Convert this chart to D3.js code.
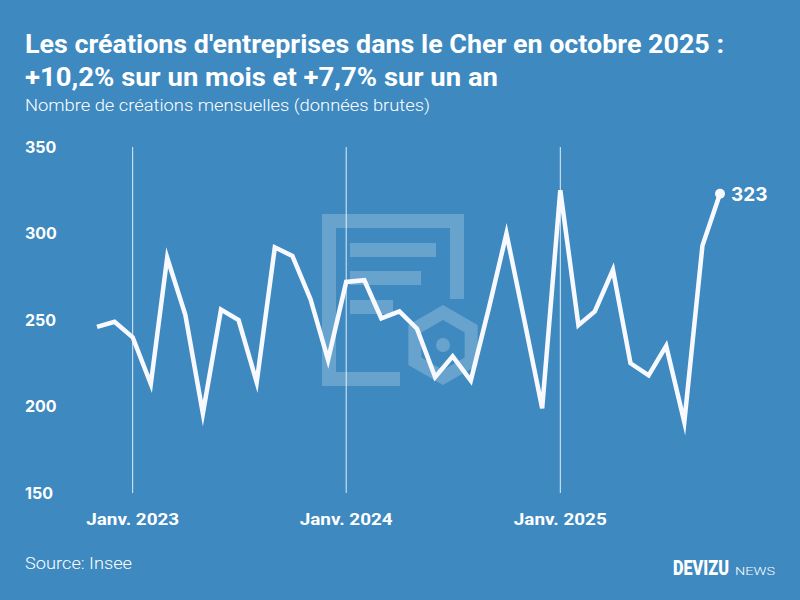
<!DOCTYPE html>
<html>
<head>
<meta charset="utf-8">
<script src="https://cdn.jsdelivr.net/npm/d3@7"></script>
<style>
  body { margin: 0; background: #3d89c0; }
  svg { display: block; }
</style>
</head>
<body>
<div id="chart"></div>
<script>
// monthly company creations, Cher, Nov 2022 -> Oct 2025
const months = ["2022-11","2022-12",
  "2023-01","2023-02","2023-03","2023-04","2023-05","2023-06","2023-07","2023-08","2023-09","2023-10","2023-11","2023-12",
  "2024-01","2024-02","2024-03","2024-04","2024-05","2024-06","2024-07","2024-08","2024-09","2024-10","2024-11","2024-12",
  "2025-01","2025-02","2025-03","2025-04","2025-05","2025-06","2025-07","2025-08","2025-09","2025-10"];
const creations = [246, 249,
  240, 213, 286, 253, 196, 256, 250, 214, 292, 287, 262, 227,
  272, 273, 251, 255, 245, 217, 229, 215, 257, 300, 249, 199,
  325, 247, 255, 279, 225, 218, 235, 191, 293, 323];
const yTicks = [150, 200, 250, 300, 350];
const janTicks = ["2023-01", "2024-01", "2025-01"];
const janLabels = ["Janv. 2023", "Janv. 2024", "Janv. 2025"];

const W = 800, H = 600;
const parseMonth = d3.timeParse("%Y-%m");
const data = months.map((m, i) => ({ date: parseMonth(m), value: creations[i] }));

const svg = d3.select("#chart").append("svg")
    .attr("width", W)
    .attr("height", H);

svg.append("rect").attr("width", W).attr("height", H).attr("fill", "#3d89c0");

const x = d3.scaleTime()
    .domain(d3.extent(data, d => d.date))
    .range([97, 720]);
const y = d3.scaleLinear()
    .domain([150, 350])
    .range([493, 147]);

// watermark logo (decorative)
const wm = svg.append("g").attr("fill", "#ffffff").attr("opacity", 0.22);
wm.append("path")
    .attr("d", "M322,214 H464 V299 H450 V228 H336 V372 H400 V386 H322 Z");
wm.append("rect").attr("x", 350).attr("y", 243).attr("width", 86).attr("height", 14);
wm.append("rect").attr("x", 350).attr("y", 271).attr("width", 71).attr("height", 14);
wm.append("rect").attr("x", 350).attr("y", 300).attr("width", 43).attr("height", 14);
const hex = (cx, cy, r) => d3.range(6).map(k => {
  const a = Math.PI / 3 * k - Math.PI / 2;
  return [cx + r * Math.cos(a), cy + r * Math.sin(a)];
});
const hexPath = pts => "M" + pts.map(p => p.join(",")).join("L") + "Z";
wm.append("path")
    .attr("fill-rule", "evenodd")
    .attr("d", hexPath(hex(443, 345, 40)) + hexPath(hex(443, 345, 25)));
wm.append("circle").attr("cx", 443).attr("cy", 345).attr("r", 7);

// vertical january lines
svg.append("g")
  .selectAll("line")
  .data(janTicks)
  .join("line")
    .attr("x1", d => x(parseMonth(d)))
    .attr("x2", d => x(parseMonth(d)))
    .attr("y1", y(350))
    .attr("y2", y(150))
    .attr("stroke", "#ffffff")
    .attr("stroke-opacity", 0.85)
    .attr("stroke-width", 1);

// y labels
svg.append("g")
  .selectAll("text")
  .data(yTicks)
  .join("text")
    .attr("x", 25)
    .attr("y", d => y(d))
    .attr("dy", "0.36em")
    .attr("fill", "#ffffff")
    .style("font-family", "Inter, sans-serif")
    .style("font-weight", "700")
    .style("font-size", "16px")
    .text(d => d);

// x labels
svg.append("g")
  .selectAll("text")
  .data(janTicks)
  .join("text")
    .attr("x", d => x(parseMonth(d)))
    .attr("y", 525)
    .attr("text-anchor", "middle")
    .attr("fill", "#ffffff")
    .attr("textLength", 93)
    .attr("lengthAdjust", "spacingAndGlyphs")
    .style("font-family", "Roboto, sans-serif")
    .style("font-weight", "700")
    .style("font-size", "16px")
    .text((d, i) => janLabels[i]);

// the line
const line = d3.line().x(d => x(d.date)).y(d => y(d.value));
svg.append("path")
    .datum(data)
    .attr("fill", "none")
    .attr("stroke", "#f8f9ff")
    .attr("stroke-width", 4.5)
    .attr("stroke-linejoin", "miter")
    .attr("stroke-miterlimit", 6)
    .attr("d", line);

const last = data[data.length - 1];
svg.append("circle")
    .attr("cx", x(last.date))
    .attr("cy", y(last.value))
    .attr("r", 5)
    .attr("fill", "#f8f9ff");
svg.append("text")
    .attr("x", x(last.date) + 11)
    .attr("y", y(last.value))
    .attr("dy", "0.36em")
    .attr("fill", "#ffffff")
    .style("font-family", "Inter, sans-serif")
    .style("font-weight", "700")
    .style("font-size", "19px")
    .text(last.value);

// titles
const titleLines = ["Les créations d'entreprises dans le Cher en octobre 2025 :",
                    "+10,2% sur un mois et +7,7% sur un an"];
const titleWidths = [699, 473];
svg.append("g")
  .selectAll("text")
  .data(titleLines)
  .join("text")
    .attr("x", 25)
    .attr("y", (d, i) => 53 + i * 33)
    .attr("fill", "#ffffff")
    .attr("textLength", (d, i) => titleWidths[i])
    .attr("lengthAdjust", "spacingAndGlyphs")
    .style("font-family", "Roboto, sans-serif")
    .style("font-weight", "700")
    .style("font-size", "25px")
    .text(d => d);

svg.append("text")
    .attr("x", 25)
    .attr("y", 111)
    .attr("fill", "#ffffff")
    .attr("textLength", 405)
    .attr("lengthAdjust", "spacingAndGlyphs")
    .style("font-family", "Roboto, sans-serif")
    .style("font-weight", "300")
    .style("font-size", "17px")
    .text("Nombre de créations mensuelles (données brutes)");

svg.append("text")
    .attr("x", 25)
    .attr("y", 569)
    .attr("fill", "#ffffff")
    .attr("textLength", 107)
    .attr("lengthAdjust", "spacingAndGlyphs")
    .style("font-family", "Roboto, sans-serif")
    .style("font-weight", "300")
    .style("font-size", "17px")
    .text("Source: Insee");

// logo: squeeze horizontally so it fits its slot
function squeezed(txt, x0, y0, w, size, weight) {
  const t = svg.append("text")
      .attr("fill", "#ffffff")
      .style("font-family", "Roboto, sans-serif")
      .style("font-weight", weight)
      .style("font-size", size + "px")
      .text(txt);
  const k = w / t.node().getComputedTextLength();
  t.attr("transform", `translate(${x0},${y0}) scale(${k},1)`);
}
squeezed("DEVIZU", 673, 575, 56, 21, 900);
squeezed("NEWS", 735, 575, 40, 10, 300);
</script>
</body>
</html>
